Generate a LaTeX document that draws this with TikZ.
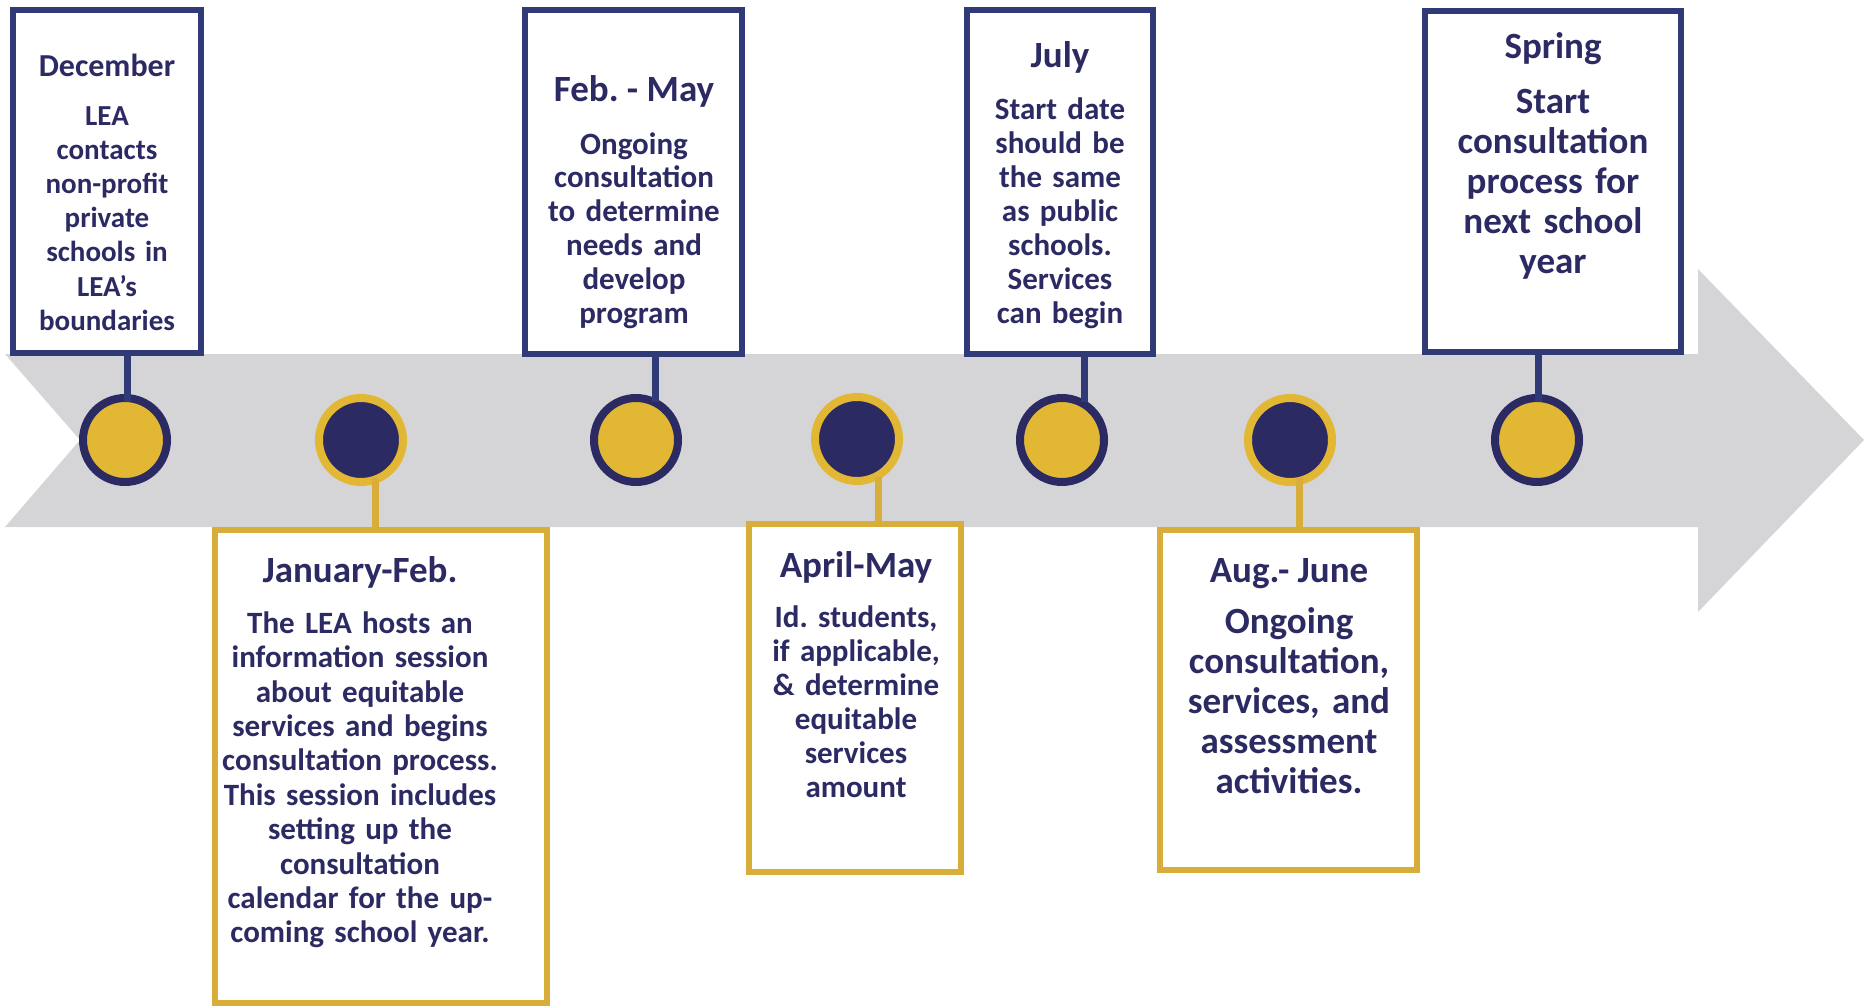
\documentclass[tikz,border=0pt]{standalone}
\usepackage{fontspec}
\setmainfont{Carlito}
\frenchspacing
\definecolor{navy}{HTML}{2B2A63}
\definecolor{navyline}{HTML}{2F3A77}
\definecolor{gold}{HTML}{E2B733}
\definecolor{goldline}{HTML}{D9AD3A}
\definecolor{bandgray}{HTML}{D5D5D8}
\tikzset{
  navybox/.style={draw=navyline, line width=6, fill=white, inner sep=0},
  goldbox/.style={draw=goldline, line width=6, fill=white, inner sep=0},
  goldspot/.style={circle, draw=navy, fill=gold, line width=8, minimum size=84, inner sep=0},
  navyspot/.style={circle, draw=gold, fill=navy, line width=8, minimum size=84, inner sep=0},
  head/.style={text=navy, anchor=base, font=\fontsize{37}{44}\selectfont\bfseries},
  body/.style={text=navy, anchor=north, align=center, text width=320, inner sep=0},
  navystem/.style={draw=navyline, line width=7, shorten >=-8},
  goldstem/.style={draw=goldline, line width=7, shorten >=-8},
}
\begin{document}
\begin{tikzpicture}[x=1pt, y=-1pt]
    \useasboundingbox (0,0) rectangle (1864,1006);
    % timeline arrow
    \fill [bandgray] (5,354) -- (1698,354) -- (1698,269) -- (1864,440) -- (1698,612)
        -- (1698,527) -- (5,527) -- (80,440) -- cycle;
    % boxes above
    \node [navybox, minimum width=188, minimum height=343] (dec) at (107,181.5) {};
    \node [navybox, minimum width=217, minimum height=344] (feb) at (633.5,182) {};
    \node [navybox, minimum width=186, minimum height=344] (jul) at (1060,182) {};
    \node [navybox, minimum width=256, minimum height=341] (spr) at (1553,181.5) {};
    % boxes below
    \node [goldbox, minimum width=332, minimum height=473] (jan) at (381,766.5) {};
    \node [goldbox, minimum width=212, minimum height=348] (apr) at (855,698) {};
    \node [goldbox, minimum width=257, minimum height=340] (aug) at (1288.5,700) {};
    % dots
    \node [goldspot] (c1) at (125,440) {};
    \node [navyspot] (c2) at (361,440) {};
    \node [goldspot] (c3) at (636,440) {};
    \node [navyspot] (c4) at (857,439) {};
    \node [goldspot] (c5) at (1062,440) {};
    \node [navyspot] (c6) at (1290,440) {};
    \node [goldspot] (c7) at (1537,440) {};
    % stems
    \coordinate (s1) at (127,0);
    \coordinate (s2) at (375,0);
    \coordinate (s3) at (655,0);
    \coordinate (s4) at (878,0);
    \coordinate (s5) at (1084,0);
    \coordinate (s6) at (1299,0);
    \coordinate (s7) at (1538,0);
    \draw [navystem] (dec.south -| s1) -- (c1.north -| s1);
    \draw [navystem] (feb.south -| s3) -- (c3.north -| s3);
    \draw [navystem] (jul.south -| s5) -- (c5.north -| s5);
    \draw [navystem] (spr.south -| s7) -- (c7.north -| s7);
    \draw [goldstem] (jan.north -| s2) -- (c2.south -| s2);
    \draw [goldstem] (apr.north -| s4) -- (c4.south -| s4);
    \draw [goldstem] (aug.north -| s6) -- (c6.south -| s6);
    % texts
    \node [head, font=\fontsize{32}{38}\selectfont\bfseries] (decHead) at (107,77) {December};
    \node [body, font=\fontsize{29}{34.2}\selectfont\bfseries] (decText) at (107,101)
        {\strut LEA\\contacts\\non-profit\\private\\schools in\\LEA’s\\boundaries};
    \node [head] (janHead) at (360,582) {January-Feb.};
    \node [body, font=\fontsize{31}{34.4}\selectfont\bfseries] (janText) at (360,609)
        {\strut The LEA hosts an\\information session\\about equitable\\services and begins\\consultation process.\\This session includes\\setting up the\\consultation\\calendar for the up-\\coming school year.};
    \node [head] (febHead) at (634,102) {Feb. - May};
    \node [body, font=\fontsize{31}{34}\selectfont\bfseries] (febText) at (634,130)
        {\strut Ongoing\\consultation\\to determine\\needs and\\develop\\program};
    \node [head] (aprHead) at (856,577) {April-May};
    \node [body, font=\fontsize{31}{34}\selectfont\bfseries] (aprText) at (856,603)
        {\strut Id. students,\\if applicable,\\\& determine\\equitable\\services\\amount};
    \node [head] (julHead) at (1060,68) {July};
    \node [body, font=\fontsize{31}{34}\selectfont\bfseries] (julText) at (1060,96)
        {\strut Start date\\should be\\the same\\as public\\schools.\\Services\\can begin};
    \node [head] (augHead) at (1289,582) {Aug.- June};
    \node [body, font=\fontsize{37}{40}\selectfont\bfseries] (augText) at (1289,605)
        {\strut Ongoing\\consultation,\\services, and\\assessment\\activities.};
    \node [head] (sprHead) at (1553,59) {Spring};
    \node [body, font=\fontsize{37}{40}\selectfont\bfseries] (sprText) at (1553,85)
        {\strut Start\\consultation\\process for\\next school\\year};
\end{tikzpicture}
\end{document}
